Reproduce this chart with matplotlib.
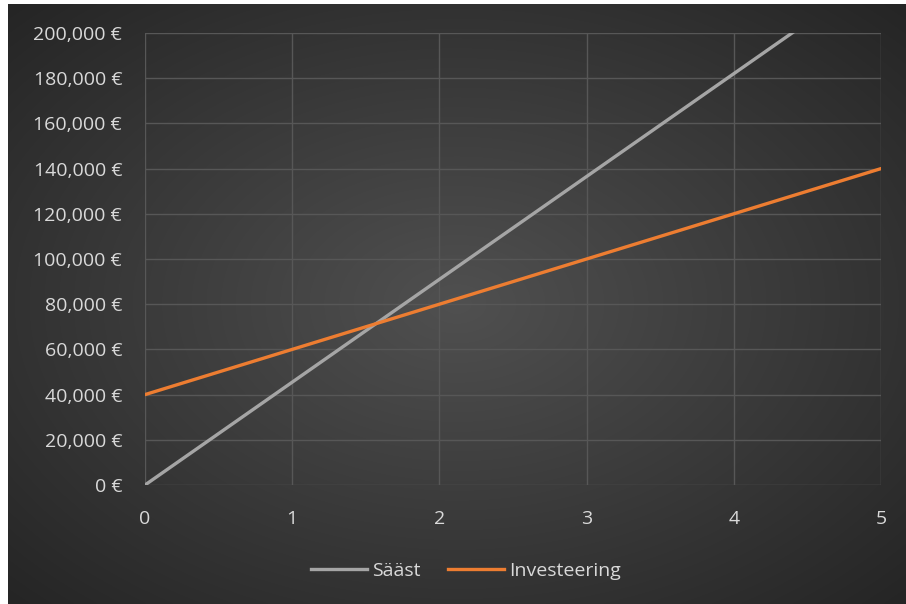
import numpy as np
import matplotlib
matplotlib.use("Agg")
import matplotlib.pyplot as plt
from matplotlib.ticker import FuncFormatter, MultipleLocator
from matplotlib.lines import Line2D

years = [0, 1, 2, 3, 4, 5]
saast = [0, 45500, 91000, 136500, 182000, 227500]
investeering = [40000, 60000, 80000, 100000, 120000, 140000]
series_names = ["Sääst", "Investeering"]

plt.rcParams['font.family'] = ['Open Sans', 'DejaVu Sans']

W, H = 906, 604
fig = plt.figure(figsize=(W / 100, H / 100), dpi=100, facecolor="white")

# radial-gradient chart background inside a thin white frame
bg_left, bg_bottom, bg_right, bg_top = 8 / W, 0, 1, 1 - 4 / H
bg = fig.add_axes([bg_left, bg_bottom, bg_right - bg_left, bg_top - bg_bottom])
bg.set_axis_off()
ny, nx = 300, 450
yy, xx = np.mgrid[0:ny, 0:nx]
dx = (xx / (nx - 1) - 0.5) * 2
dy = (yy / (ny - 1) - 0.5) * 2
r = np.sqrt(dx ** 2 + dy ** 2) / np.sqrt(2)
inner, outer = 0x50 / 255, 0x25 / 255
val = inner + (outer - inner) * np.clip(r, 0, 1)
img = np.dstack([val, val, val])
bg.imshow(img, aspect="auto", extent=[0, 1, 0, 1], interpolation="bilinear")
bg.set_xlim(0, 1)
bg.set_ylim(0, 1)

# plot area
px0, px1 = 145, 881
py_top, py_bot = 33, 485
ax = fig.add_axes([px0 / W, 1 - py_bot / H, (px1 - px0) / W, (py_bot - py_top) / H])
ax.patch.set_alpha(0)
for s in ax.spines.values():
    s.set_visible(False)

ax.set_xlim(0, 5)
ax.set_ylim(0, 200000)
ax.xaxis.set_major_locator(MultipleLocator(1))
ax.yaxis.set_major_locator(MultipleLocator(20000))
ax.grid(True, color="#575757", linewidth=1.0)
ax.set_axisbelow(True)

text_color = "#d9d9d9"
ax.yaxis.set_major_formatter(FuncFormatter(lambda v, p: f"{int(v):,} €"))
ax.tick_params(axis="both", length=0, colors=text_color, labelsize=14)
ax.tick_params(axis="y", pad=16.5)
ax.tick_params(axis="x", pad=18)

ax.plot(years, saast, color="#a5a5a5", linewidth=2.4, solid_capstyle="round", clip_on=True)
ax.plot(years, investeering, color="#ed7d31", linewidth=2.4, solid_capstyle="round", clip_on=True)

handles = [Line2D([0], [0], color="#a5a5a5", linewidth=2.4),
           Line2D([0], [0], color="#ed7d31", linewidth=2.4)]
leg = fig.legend(handles, series_names, loc="center", bbox_to_anchor=(466 / W, 1 - 571 / H),
                 ncol=2, frameon=False, fontsize=14, handlelength=2.85, handletextpad=0.25,
                 columnspacing=1.45)
for t in leg.get_texts():
    t.set_color(text_color)

fig.savefig("out.png", dpi=100, facecolor="white")
